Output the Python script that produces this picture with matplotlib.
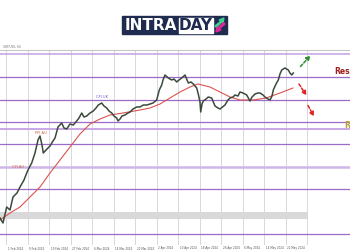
import matplotlib
matplotlib.use("Agg")
import matplotlib.pyplot as plt
from matplotlib.patches import Rectangle, Polygon

# ---- data (time index in bars, value in chart units) ----
price_t = [0, 3, 6.7, 10, 13, 17, 20, 24, 26.7, 29,
           31.7, 35, 38, 40, 42, 43.3, 46, 50, 53, 55,
           58, 61.7, 64, 66.7, 70, 73.3, 76.7, 79, 81.7, 84,
           86.7, 90, 93.3, 96, 98.3, 101.7, 104, 106.7, 109, 111.7,
           114, 116.7, 118, 120, 122, 125, 128, 130, 133, 136.7,
           140, 143.3, 147, 150, 153, 156.7, 159.3, 161.7, 163, 165,
           168.3, 171.7, 174, 176.7, 179, 181.7, 185, 188.3, 191, 193.3,
           196.7, 198.5, 200, 200.7, 202, 203.3, 206, 208.3, 211.7, 215,
           218, 220, 222.5, 225, 228, 230, 233, 235, 238, 240,
           243, 246.7, 250, 252, 255, 258, 260, 263, 265, 268,
           270, 272, 273.3, 276, 278.3, 280, 281.7, 285, 288.3, 290,
           291.7, 293.3]
price_v = [27, 22, 38, 35, 48, 52, 58, 65, 72, 77,
           82, 92, 105, 109, 100, 92, 95, 99, 104, 107,
           118, 122, 117, 116, 121, 120, 124, 127, 132, 128,
           129, 132, 134, 137, 140, 142, 139, 137, 134, 132,
           129, 127, 124, 126, 129, 130, 132, 133, 136, 138,
           138, 140, 140, 141, 142, 145, 155, 160, 165, 170,
           167, 165, 166, 163, 165, 167, 170, 162, 163, 161,
           157, 150, 143, 133, 141, 144, 146, 148, 147, 139,
           137, 136, 138, 140, 145, 147, 148, 150, 149, 153,
           152, 150, 144, 148, 151, 152, 152, 150, 148, 146,
           145, 149, 155, 161, 165, 171, 175, 177, 175, 172,
           170, 172]

ma_t = [0, 10, 20, 30, 40, 50, 60, 70, 80, 90, 100, 110, 123, 140, 150,
        160, 170, 180, 190, 198, 210, 220, 230, 240, 253, 266, 280, 293]
ma_v = [25, 32, 38, 48, 58, 72, 85, 98, 111, 121, 126, 130, 132, 135, 137,
        141, 147, 153, 158, 161, 158, 153, 148, 145, 145, 147, 152, 157]

levels = [190.7, 167.7, 145, 122.7, 116, 100.7, 77.7, 55.7, 10.7]
level_colors = ['#c9a8e6', '#9a6cc8', '#9a6cc8', '#9a6cc8', '#c9a8e6',
                '#9a6cc8', '#cfb6e6', '#9a6cc8', '#9a6cc8']
level_widths = [1.2, 0.9, 0.9, 0.9, 1.4, 0.9, 1.8, 0.9, 0.9]
band = (26, 33.3)

grid_t = [6.2 + 21.5 * k for k in range(15)]
date_labels = ['1 Feb 2024', '9 Feb 2024', '19 Feb 2024', '27 Feb 2024',
               '6 Mar 2024', '14 Mar 2024', '22 Mar 2024', '2 Apr 2024',
               '10 Apr 2024', '18 Apr 2024', '26 Apr 2024', '6 May 2024',
               '14 May 2024', '22 May 2024']

event_labels = [('CPI AU', 12, 75.5, '#d2603a'),
                ('PPI AU', 35, 110.5, '#d2603a'),
                ('CPI UK', 96, 146.5, '#6a5acd')]

# ---- figure ----
fig = plt.figure(figsize=(3.5, 2.5), dpi=100)
fig.patch.set_facecolor('white')
ax = fig.add_axes([0, 5 / 250, 1, 195 / 250])
ax.set_xlim(0, 350)
ax.set_ylim(0, 195)
for s in ['left', 'right', 'bottom']:
    ax.spines[s].set_visible(False)
ax.spines['top'].set_color('#b8b8b8')
ax.spines['top'].set_linewidth(0.6)
ax.set_xticks([])
ax.set_yticks([])

for g in grid_t:
    ax.axvline(g, color='#c9c6d2', lw=0.5, zorder=1)
ax.fill_between([0, grid_t[-1]], band[0], band[1], color='#d9d9d9', lw=0, zorder=1)
for lv, c, w in zip(levels, level_colors, level_widths):
    ax.axhline(lv, color=c, lw=w, zorder=2)

ax.plot(ma_t, ma_v, color='#d9534f', lw=0.8, zorder=3)
ax.plot(price_t, price_v, color='#3b4a3b', lw=1.1, zorder=4)

for txt, x, y, c in event_labels:
    ax.text(x, y, txt, fontsize=2.6, color=c, ha='left', va='bottom', zorder=5)

ax.text(3, 196, 'GBP/USD, H4', fontsize=2, color='#777777', va='bottom',
        clip_on=False)

# arrows
arrow_kw = dict(arrowstyle='-|>', lw=1.1, linestyle=(0, (2, 1.2)),
                mutation_scale=6, shrinkA=0, shrinkB=0)
ax.annotate('', xy=(310.5, 189.5), xytext=(300.5, 178.5),
            arrowprops=dict(color='#2e8b2e', **arrow_kw))
ax.annotate('', xy=(306.5, 149.5), xytext=(299, 161),
            arrowprops=dict(color='#e02424', **arrow_kw))
ax.annotate('', xy=(314, 128.5), xytext=(308, 139.5),
            arrowprops=dict(color='#e02424', **arrow_kw))

ax.text(334, 173, 'Res', fontsize=5.5, fontweight='bold',
        color='#a31f1f', ha='left', va='center')
ax.text(344.5, 120, 'R', fontsize=5.5, fontweight='bold',
        color='#b5a23c', ha='left', va='center')

for g, lab in zip(grid_t, date_labels):
    ax.text(g + 1.5, -1.5, lab, fontsize=2, color='#555555', ha='left',
            va='top', clip_on=False)

# ---- logo ----
W, H = 350, 250
def fx(x):
    return x / W
def fy(y):
    return 1 - y / H
fig.patches.append(Rectangle((fx(122), fy(34.3)), fx(227) - fx(122),
                             fy(15.7) - fy(34.3), transform=fig.transFigure,
                             color='#1f2b4f', zorder=0))
fig.patches.append(Rectangle((fx(178.5), fy(32.5)), fx(213) - fx(178.5),
                             fy(17.8) - fy(32.5), transform=fig.transFigure,
                             color='white', zorder=1))
fig.text(fx(151), fy(25.3), 'INTRA', fontsize=11, fontweight='bold',
         color='white', ha='center', va='center')
fig.text(fx(195.7), fy(25.3), 'DAY', fontsize=11, fontweight='bold',
         color='#1f2b4f', ha='center', va='center')
green_pts = [(215, 26), (221, 21), (219, 20), (224, 18), (223, 23),
             (221.5, 22), (216.5, 27.5)]
pink_pts = [(225, 24), (219, 29), (221, 30), (216, 32), (217, 27),
            (218.5, 28), (223.5, 22.5)]
fig.patches.append(Polygon([(fx(a), fy(b)) for a, b in green_pts], closed=True,
                           transform=fig.transFigure, color='#3fcf8e', zorder=2))
fig.patches.append(Polygon([(fx(a), fy(b)) for a, b in pink_pts], closed=True,
                           transform=fig.transFigure, color='#e0249a', zorder=2))

fig.savefig('out.png', dpi=100)
